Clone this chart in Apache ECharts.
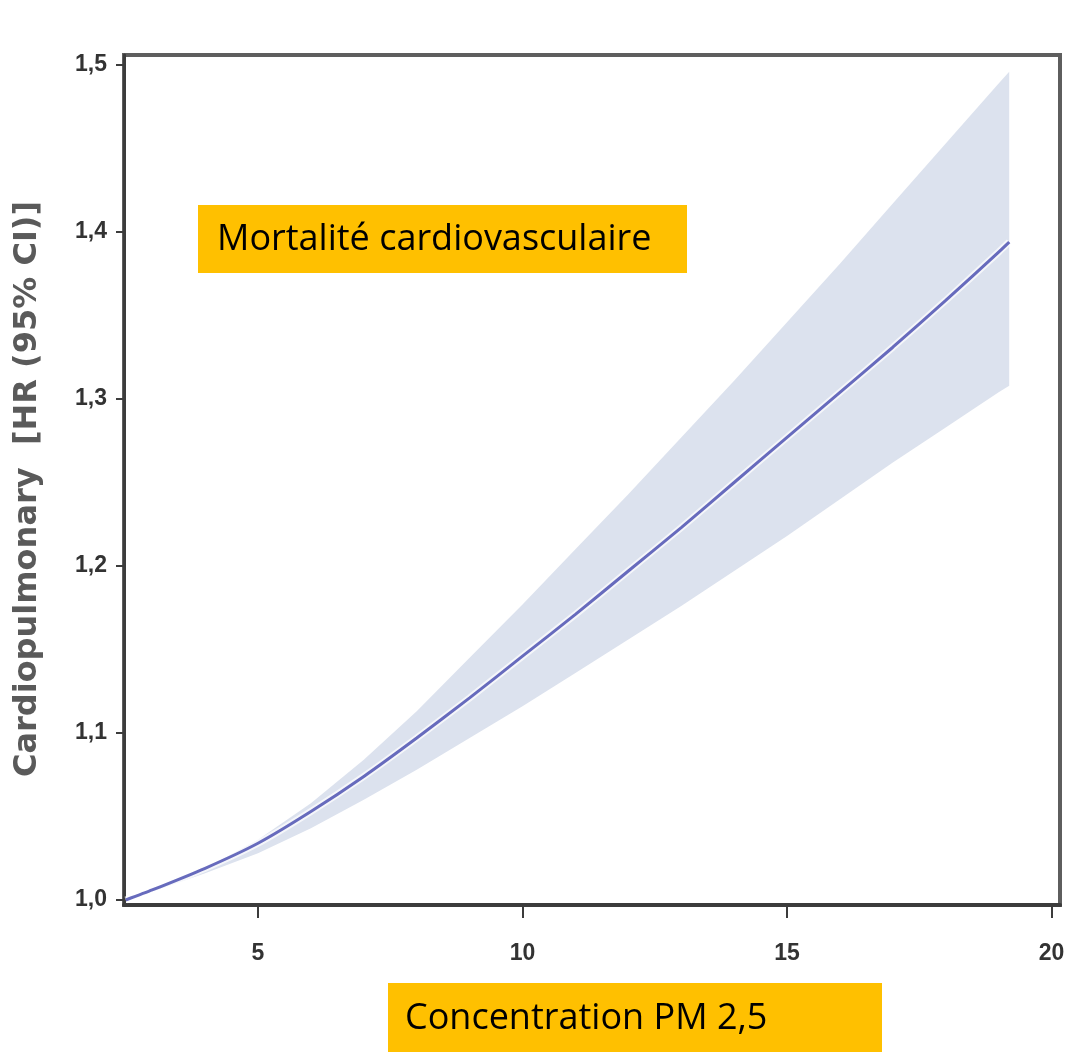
<!DOCTYPE html>
<html>
<head>
<meta charset="utf-8">
<title>Mortalité cardiovasculaire et PM 2,5</title>
<script src="https://cdn.jsdelivr.net/npm/echarts@6/dist/echarts.min.js"></script>
<style>
  html, body { margin: 0; padding: 0; background: #ffffff; }
  #chart { width: 1078px; height: 1056px; }
</style>
</head>
<body>
<div id="chart"></div>
<script>
// PM2.5 concentration (µg/m³) at which the curve is sampled
const concentration = [2.5, 3, 4, 5, 6, 7, 8, 9, 10, 11, 12, 13, 14, 15, 16, 17, 18, 19, 19.2];
// Hazard ratio estimate
const hazardRatio = [1.000, 1.006, 1.019, 1.034, 1.053, 1.074, 1.097, 1.121, 1.146, 1.171, 1.197, 1.223, 1.250, 1.277, 1.304, 1.331, 1.359, 1.388, 1.394];
// 95% confidence interval bounds
const ciLower = [1.000, 1.005, 1.016, 1.028, 1.043, 1.060, 1.078, 1.097, 1.116, 1.136, 1.156, 1.176, 1.197, 1.218, 1.240, 1.262, 1.283, 1.304, 1.308];
const ciUpper = [1.000, 1.006, 1.019, 1.036, 1.058, 1.084, 1.113, 1.145, 1.177, 1.210, 1.243, 1.277, 1.311, 1.346, 1.381, 1.417, 1.453, 1.489, 1.496];

// Axis ticks
const xTicks = [5, 10, 15, 20];
const yTicks = [1.0, 1.1, 1.2, 1.3, 1.4, 1.5];

// Texts
const yAxisTitle = 'Cardiopulmonary  [HR (95% CI)]';
const outcomeLabel = 'Mortalité cardiovasculaire';
const exposureLabel = 'Concentration PM 2,5';

const pairs = ys => concentration.map((x, i) => [x, ys[i]]);
const bandData = concentration.map((x, i) => [x, ciLower[i], ciUpper[i]]);

const chart = echarts.init(document.getElementById('chart'), null, { renderer: 'canvas' });

const tickFont = {
  fontFamily: '"Liberation Sans", Arial, sans-serif',
  fontWeight: 'bold',
  fontSize: 23,
  color: '#333333'
};

// Confidence band: one polygon running along the upper bound and back along the lower bound
function renderBand(params, api) {
  if (params.dataIndex !== 0) return null;
  const points = [];
  for (let i = 0; i < bandData.length; i++) {
    points.push(api.coord([bandData[i][0], bandData[i][2]]));
  }
  for (let i = bandData.length - 1; i >= 0; i--) {
    points.push(api.coord([bandData[i][0], bandData[i][1]]));
  }
  return {
    type: 'polygon',
    shape: { points: points, smooth: 0 },
    style: { fill: '#dce2ee' },
    silent: true
  };
}

chart.setOption({
  animation: false,
  backgroundColor: '#ffffff',
  grid: {
    left: 124, top: 55, right: 18, bottom: 151,
    show: true,
    borderColor: '#5e5e5e',
    borderWidth: 4,
    backgroundColor: 'transparent'
  },
  xAxis: {
    type: 'value',
    min: 2.467,
    max: 20.16,
    axisLine: { show: true, onZero: false, lineStyle: { color: '#3c3c3c', width: 4 } },
    axisTick: {
      show: true, inside: false, length: 13,
      customValues: xTicks,
      lineStyle: { color: '#3c3c3c', width: 2 }
    },
    axisLabel: Object.assign({
      customValues: xTicks,
      margin: 37,
      formatter: v => String(v)
    }, tickFont),
    splitLine: { show: false }
  },
  yAxis: {
    type: 'value',
    min: 0.997,
    max: 1.506,
    name: yAxisTitle,
    nameLocation: 'middle',
    nameGap: 80,
    nameRotate: 90,
    nameTextStyle: {
      fontFamily: '"DejaVu Sans", sans-serif',
      fontWeight: 'bold',
      fontSize: 32,
      color: '#5a5a5a',
      padding: [0, 18, 0, 0]
    },
    axisLine: { show: true, onZero: false, lineStyle: { color: '#3c3c3c', width: 3 } },
    axisTick: {
      show: true, inside: false, length: 8,
      customValues: yTicks,
      lineStyle: { color: '#3c3c3c', width: 2 }
    },
    axisLabel: Object.assign({
      customValues: yTicks,
      margin: 17,
      formatter: v => v.toFixed(1).replace('.', ',')
    }, tickFont),
    splitLine: { show: false }
  },
  series: [
    {
      name: 'IC 95%',
      type: 'custom',
      data: bandData,
      encode: { x: 0, y: [1, 2] },
      renderItem: renderBand,
      clip: true,
      silent: true,
      z: 1
    },
    {
      name: 'halo',
      type: 'line',
      data: pairs(hazardRatio),
      symbol: 'none',
      smooth: 0.2,
      lineStyle: { color: '#ffffff', width: 7, opacity: 0.7 },
      silent: true,
      z: 2
    },
    {
      name: 'HR',
      type: 'line',
      data: pairs(hazardRatio),
      symbol: 'none',
      smooth: 0.2,
      lineStyle: { color: '#676bbd', width: 3 },
      z: 3
    }
  ],
  graphic: [
    {
      type: 'group',
      left: 198,
      top: 205,
      z: 100,
      children: [
        { type: 'rect', shape: { x: 0, y: 0, width: 489, height: 68 }, style: { fill: '#FFC000' } },
        {
          type: 'text', x: 19, y: 35,
          style: {
            text: outcomeLabel,
            font: '36px "Open Sans", "Noto Sans", sans-serif',
            fill: '#000000',
            verticalAlign: 'middle'
          }
        }
      ]
    },
    {
      type: 'group',
      left: 388,
      top: 983,
      z: 100,
      children: [
        { type: 'rect', shape: { x: 0, y: 0, width: 494, height: 69 }, style: { fill: '#FFC000' } },
        {
          type: 'text', x: 17, y: 36,
          style: {
            text: exposureLabel,
            font: '36px "Open Sans", "Noto Sans", sans-serif',
            fill: '#000000',
            verticalAlign: 'middle'
          }
        }
      ]
    }
  ]
});
</script>
</body>
</html>
